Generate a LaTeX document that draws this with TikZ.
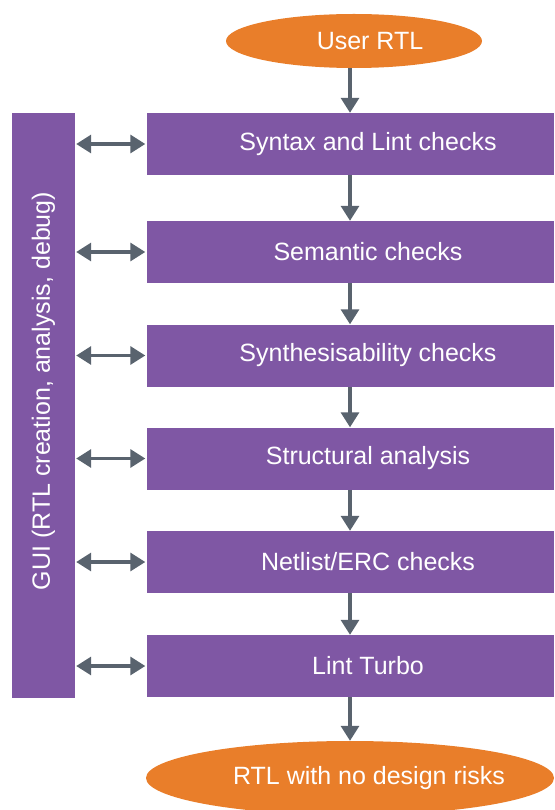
\documentclass[tikz,border=0pt]{standalone}
\usepackage{fontspec}
\setmainfont{Liberation Sans}
\usetikzlibrary{arrows.meta,shapes.geometric}
\definecolor{boxpurple}{RGB}{127,87,164}
\definecolor{ovalorange}{RGB}{233,126,42}
\definecolor{arrowgray}{RGB}{89,99,110}
\tikzset{
  txt/.style={text=white,font=\fontsize{25}{29}\selectfont},
  stepbox/.style={draw=none,fill=boxpurple,minimum width=407pt,minimum height=62pt,inner sep=0pt,txt},
  oval/.style={ellipse,draw=none,fill=ovalorange,inner sep=0pt},
  tip/.style={Triangle[length=15pt,width=18pt]},
  flow/.style={draw=arrowgray,line width=3.2pt,-{Triangle[length=15pt,width=18pt]}},
  both/.style={draw=arrowgray,line width=3.2pt,{Triangle[length=15pt,width=18pt]}-{Triangle[length=15pt,width=18pt]}}
}
\begin{document}
\begin{tikzpicture}[x=1pt,y=-1pt]
\useasboundingbox (0,0) rectangle (554,810);
\node[oval,minimum width=256pt,minimum height=54pt,label={[txt,xshift=16pt]center:User RTL}] (user) at (354,41) {};
\node[stepbox] (s1) at (350,144) {\hspace*{36pt}Syntax and Lint checks};
\node[stepbox] (s2) at (350,252) {\hspace*{36pt}Semantic checks};
\node[stepbox] (s3) at (350,355.5) {\hspace*{36pt}Synthesisability checks};
\node[stepbox] (s4) at (350,458.5) {\hspace*{36pt}Structural analysis};
\node[stepbox] (s5) at (350,562) {\hspace*{36pt}Netlist/ERC checks};
\node[stepbox] (s6) at (350,666) {\hspace*{36pt}Lint Turbo};
\node[oval,minimum width=408pt,minimum height=74pt,label={[txt,xshift=19pt]center:RTL with no design risks}] (out) at (350,778) {};
\node[fill=boxpurple,minimum width=63pt,minimum height=585pt,inner sep=0pt] (gui) at (43.5,405.5) {};
\node[rotate=90,txt] (guitext) at (43.5,391) {GUI (RTL creation, analysis, debug)};
\draw[flow] (user.south -| s1.north) -- (s1.north);
\draw[flow] (s1) -- (s2);
\draw[flow] (s2) -- (s3);
\draw[flow] (s3) -- (s4);
\draw[flow] (s4) -- (s5);
\draw[flow] (s5) -- (s6);
\draw[flow] (s6.south) -- (s6.south |- out.north);
\foreach \s in {s1,s2,s3,s4,s5,s6}{
  \draw[both] ([xshift=1pt]gui.east |- \s.west) -- ([xshift=-1pt]\s.west);
}
\end{tikzpicture}
\end{document}
